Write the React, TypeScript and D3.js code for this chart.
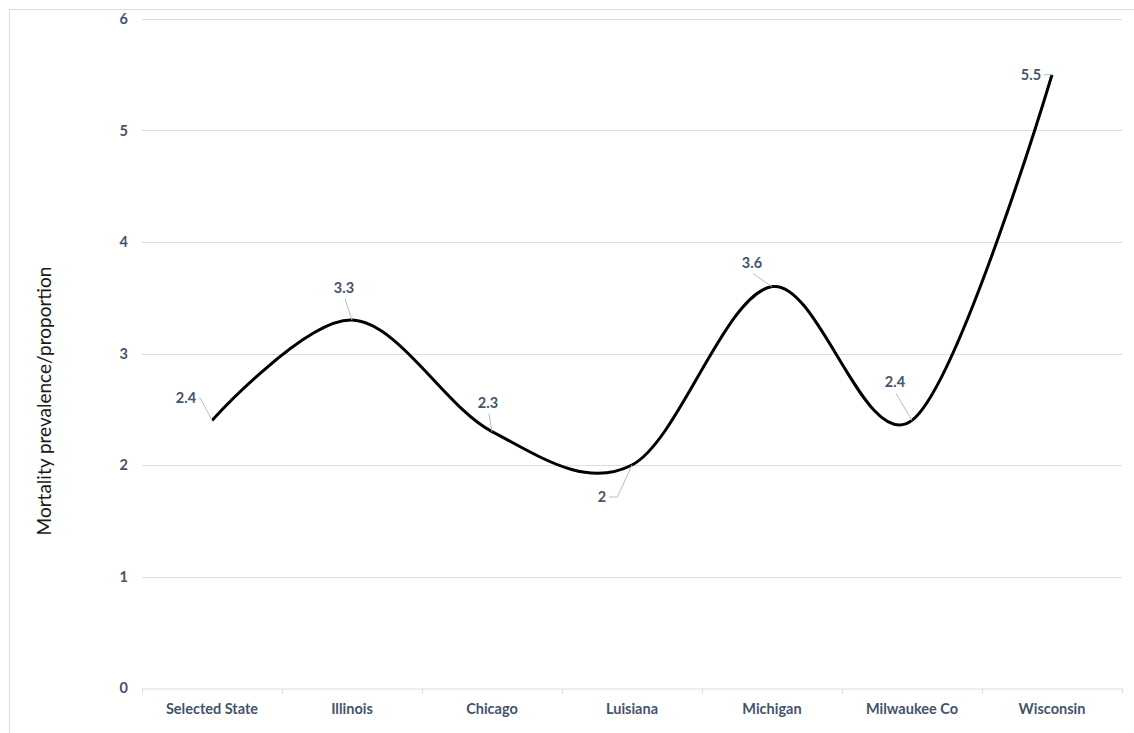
import * as d3 from "d3";
import { useEffect, useRef } from "react";

const categories = [
  "Selected State",
  "Illinois",
  "Chicago",
  "Luisiana",
  "Michigan",
  "Milwaukee Co",
  "Wisconsin",
];
const values = [2.4, 3.3, 2.3, 2, 3.6, 2.4, 5.5];
const yTicks = [0, 1, 2, 3, 4, 5, 6];

// label placement relative to the point: text offset + leader style
const labelOffsets = [
  { dx: -26, dy: -22, elbow: "h" },
  { dx: -8, dy: -32, elbow: "" },
  { dx: -4, dy: -29, elbow: "" },
  { dx: -30, dy: 32, elbow: "h" },
  { dx: -20, dy: -24, elbow: "" },
  { dx: -17, dy: -38, elbow: "" },
  { dx: -21, dy: 0, elbow: "h" },
];

const W = 1134,
  H = 733;
const margin = { top: 19, right: 12, bottom: 45, left: 142 };
const labelColor = "#44546a";
const gridColor = "#d9dee6";
const font = "Lato, 'Open Sans', sans-serif";
const fs = 14.5;

export default function App() {
  const ref = useRef<SVGSVGElement>(null);

  useEffect(() => {
    const svg = d3.select(ref.current);
    svg.selectAll("*").remove();

    const x = d3
      .scaleBand()
      .domain(categories)
      .range([margin.left, W - margin.right])
      .padding(0);
    const y = d3
      .scaleLinear()
      .domain([0, 6])
      .range([H - margin.bottom, margin.top]);

    // chart border
    svg
      .append("rect")
      .attr("x", 9.5)
      .attr("y", 9.5)
      .attr("width", W + 10)
      .attr("height", H + 10)
      .attr("fill", "none")
      .attr("stroke", "#dadde3");

    // gridlines
    svg
      .append("g")
      .selectAll("line")
      .data(yTicks.filter((t) => t > 0))
      .join("line")
      .attr("x1", margin.left)
      .attr("x2", W - margin.right)
      .attr("y1", (d) => Math.round(y(d)) + 0.5)
      .attr("y2", (d) => Math.round(y(d)) + 0.5)
      .attr("stroke", gridColor)
      .attr("stroke-width", 1);

    // y tick labels
    svg
      .append("g")
      .selectAll("text")
      .data(yTicks)
      .join("text")
      .attr("x", 128)
      .attr("y", (d) => y(d))
      .attr("dy", "0.35em")
      .attr("text-anchor", "end")
      .attr("font-family", font)
      .attr("font-weight", "bold")
      .attr("font-size", fs)
      .attr("fill", labelColor)
      .text((d) => d);

    // x axis
    const xAxis = svg
      .append("g")
      .attr("transform", `translate(0,${Math.round(y(0)) + 0.5})`)
      .call(d3.axisBottom(x).tickSize(0).tickSizeOuter(0));
    xAxis.select(".domain").attr("stroke", gridColor);
    xAxis.selectAll(".tick").remove();

    const bounds = [margin.left, ...categories.map((c) => x(c)! + x.bandwidth())];
    xAxis
      .append("g")
      .selectAll("line")
      .data(bounds)
      .join("line")
      .attr("x1", (d) => Math.round(d) + 0.5)
      .attr("x2", (d) => Math.round(d) + 0.5)
      .attr("y1", 0)
      .attr("y2", 5)
      .attr("stroke", gridColor);

    svg
      .append("g")
      .selectAll("text")
      .data(categories)
      .join("text")
      .attr("x", (d) => x(d)! + x.bandwidth() / 2)
      .attr("y", 709)
      .attr("dy", "0.35em")
      .attr("text-anchor", "middle")
      .attr("font-family", font)
      .attr("font-weight", "bold")
      .attr("font-size", fs)
      .attr("fill", labelColor)
      .text((d) => d);

    // y axis title
    svg
      .append("text")
      .attr("transform", `translate(44,401) rotate(-90)`)
      .attr("dy", "0.35em")
      .attr("text-anchor", "middle")
      .attr("font-family", font)
      .attr("font-size", 19)
      .attr("fill", "#1a1a1a")
      .text("Mortality prevalence/proportion");

    const pts: [number, number][] = values.map((v, i) => [
      x(categories[i])! + x.bandwidth() / 2,
      y(v),
    ]);

    // line
    const line = d3.line().curve(d3.curveCardinal.tension(0));
    svg
      .append("path")
      .attr("d", line(pts))
      .attr("fill", "none")
      .attr("stroke", "#000")
      .attr("stroke-width", 3)
      .attr("stroke-linejoin", "round");

    // leader lines + labels
    const labels = svg.append("g");
    pts.forEach(([px, py], i) => {
      const o = labelOffsets[i];
      const tx = px + o.dx,
        ty = py + o.dy;
      let d: string;
      if (o.elbow === "h") {
        const sx = tx + (String(values[i]).length > 1 ? 13 : 7);
        const ex = Math.max(sx, px - (o.dy === 0 ? 0 : 5 + Math.abs(o.dy) * 0.3));
        d = `M${sx},${ty}H${ex}L${px},${py}`;
      } else {
        d = `M${tx + 1},${ty + 11}L${px},${py}`;
      }
      labels
        .append("path")
        .attr("d", d)
        .attr("fill", "none")
        .attr("stroke", "#b4bccb")
        .attr("stroke-width", 1);
      labels
        .append("text")
        .attr("x", tx)
        .attr("y", ty)
        .attr("dy", "0.35em")
        .attr("text-anchor", "middle")
        .attr("font-family", font)
        .attr("font-weight", "bold")
        .attr("font-size", fs)
        .attr("fill", labelColor)
        .text(values[i]);
    });
  }, []);

  return (
    <svg
      ref={ref}
      width={W}
      height={H}
      style={{ position: "absolute", left: 0, top: 0, background: "#fff" }}
    />
  );
}
